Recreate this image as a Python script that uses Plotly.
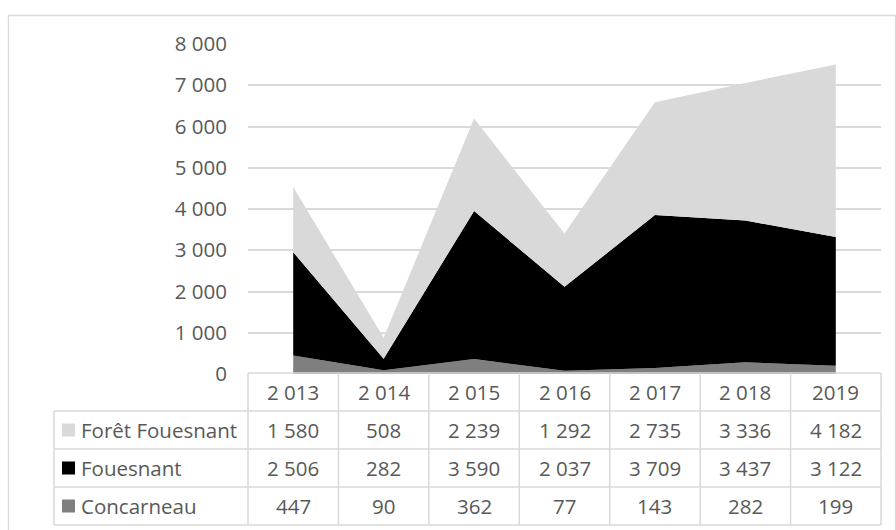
import plotly.graph_objects as go

# ---- data ----
years = ["2 013", "2 014", "2 015", "2 016", "2 017", "2 018", "2019"]
concarneau = [447, 90, 362, 77, 143, 282, 199]
fouesnant = [2506, 282, 3590, 2037, 3709, 3437, 3122]
foret_fouesnant = [1580, 508, 2239, 1292, 2735, 3336, 4182]

series_names = ["Concarneau", "Fouesnant", "Forêt Fouesnant"]
series_values = [concarneau, fouesnant, foret_fouesnant]
series_colors = ["#7f7f7f", "#000000", "#d9d9d9"]

y_tickvals = [0, 1000, 2000, 3000, 4000, 5000, 6000, 7000, 8000]

# ---- layout constants (pixels) ----
W, H = 896, 530
PX_L, PX_R = 248, 881          # plot area / table columns
PY_TOP, PY_ZERO = 44, 374       # y=8000 and y=0
ROW_H = 38
TABLE_TOP = 373
LEFT_COL = 54
GRID = "#d9d9d9"
TXT = "#595959"
FONT = "Open Sans"
FS = 20.5

def px(x):
    return x / W

def py(y):
    return 1 - y / H

xs = list(range(len(years)))
fig = go.Figure()
for name, vals, col in zip(series_names, series_values, series_colors):
    fig.add_trace(go.Scatter(
        x=xs, y=vals, name=name, mode="lines", stackgroup="one",
        line=dict(width=0, color=col), fillcolor=col, showlegend=False,
    ))

shapes = []
annotations = []

# outer border
shapes.append(dict(type="rect", xref="paper", yref="paper",
                   x0=px(8.5), x1=px(895.5), y0=py(540), y1=py(15.5),
                   line=dict(color=GRID, width=1.3), fillcolor="rgba(0,0,0,0)",
                   layer="below"))

ncol = len(years)
col_w = (PX_R - PX_L) / ncol
line_style = dict(color=GRID, width=1.5)

# table horizontal lines
shapes.append(dict(type="line", xref="paper", yref="paper",
                   x0=px(PX_L), x1=px(PX_R), y0=py(TABLE_TOP), y1=py(TABLE_TOP), line=line_style))
nrows = len(series_names)
for r in range(1, nrows + 2):
    yy = TABLE_TOP + r * ROW_H
    shapes.append(dict(type="line", xref="paper", yref="paper",
                       x0=px(LEFT_COL), x1=px(PX_R), y0=py(yy), y1=py(yy), line=line_style))
# vertical lines
table_bottom = TABLE_TOP + (nrows + 1) * ROW_H
for c in range(ncol + 1):
    xx = PX_L + c * col_w
    shapes.append(dict(type="line", xref="paper", yref="paper",
                       x0=px(xx), x1=px(xx), y0=py(TABLE_TOP), y1=py(table_bottom), line=line_style))
shapes.append(dict(type="line", xref="paper", yref="paper",
                   x0=px(LEFT_COL), x1=px(LEFT_COL), y0=py(TABLE_TOP + ROW_H), y1=py(table_bottom),
                   line=line_style))

def fmt(v):
    return f"{v:,}".replace(",", " ")

# header
for c, yr in enumerate(years):
    annotations.append(dict(xref="paper", yref="paper",
                            x=px(PX_L + (c + 0.5) * col_w), y=py(TABLE_TOP + ROW_H / 2),
                            text=yr, showarrow=False, xanchor="center", yanchor="middle",
                            font=dict(family=FONT, size=FS, color=TXT)))

# rows (top to bottom: reverse of stack order)
for r, idx in enumerate(reversed(range(nrows))):
    name = series_names[idx]
    vals = series_values[idx]
    col = series_colors[idx]
    yc = TABLE_TOP + (r + 1.5) * ROW_H
    shapes.append(dict(type="rect", xref="paper", yref="paper",
                       x0=px(62), x1=px(75), y0=py(yc - 6.5), y1=py(yc + 6.5),
                       fillcolor=col, line=dict(width=0)))
    annotations.append(dict(xref="paper", yref="paper", x=px(79), y=py(yc),
                            text=name, showarrow=False, xanchor="left", yanchor="middle",
                            font=dict(family=FONT, size=FS, color=TXT)))
    for c, v in enumerate(vals):
        annotations.append(dict(xref="paper", yref="paper",
                                x=px(PX_L + (c + 0.5) * col_w), y=py(yc),
                                text=fmt(v), showarrow=False, xanchor="center", yanchor="middle",
                                font=dict(family=FONT, size=FS, color=TXT)))

fig.update_layout(
    template="none",
    width=W, height=H,
    margin=dict(l=0, r=0, t=0, b=0, pad=0, autoexpand=False),
    paper_bgcolor="white", plot_bgcolor="white",
    separators=", ",
    showlegend=False,
    xaxis=dict(domain=[px(PX_L), px(PX_R)], range=[-0.5, ncol - 0.5], automargin=False,
               showgrid=False, zeroline=False, showticklabels=False, showline=False),
    yaxis=dict(domain=[py(PY_ZERO), py(PY_TOP)], range=[0, 8000], automargin=False,
               tickvals=y_tickvals, tickformat=",d",
               showgrid=True, gridcolor=GRID, gridwidth=1.5,
               zeroline=False, showline=False, ticks="",
               ticklabelstandoff=20,
               tickfont=dict(family=FONT, size=FS, color=TXT)),
    shapes=shapes,
    annotations=annotations,
)

fig.write_html("out.html")
